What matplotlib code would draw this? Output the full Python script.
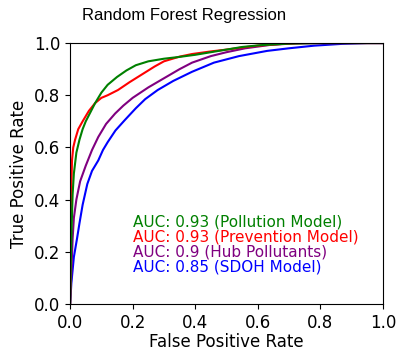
import matplotlib
matplotlib.use('Agg')
import matplotlib.pyplot as plt

# ROC curves (fpr, tpr)
pollution_fpr = [0, 0.002, 0.005, 0.008, 0.012, 0.02, 0.03, 0.04, 0.05, 0.065, 0.08, 0.1, 0.12,
                 0.15, 0.18, 0.21, 0.25, 0.3, 0.35, 0.4, 0.45, 0.5, 0.55, 0.61, 0.7, 0.8, 1.0]
pollution_tpr = [0, 0.15, 0.3, 0.42, 0.5, 0.58, 0.63, 0.67, 0.70, 0.735, 0.77, 0.81, 0.84,
                 0.87, 0.895, 0.915, 0.93, 0.94, 0.947, 0.955, 0.965, 0.975, 0.985, 0.992, 0.998, 1.0, 1.0]

prevention_fpr = [0, 0.002, 0.004, 0.006, 0.01, 0.016, 0.026, 0.04, 0.06, 0.08, 0.1, 0.12, 0.153,
                  0.19, 0.23, 0.27, 0.30, 0.35, 0.39, 0.45, 0.5, 0.55, 0.6, 0.68, 0.75, 1.0]
prevention_tpr = [0, 0.3, 0.45, 0.55, 0.6, 0.63, 0.67, 0.70, 0.74, 0.77, 0.79, 0.80, 0.82,
                  0.85, 0.88, 0.91, 0.93, 0.948, 0.958, 0.968, 0.975, 0.983, 0.99, 0.997, 1.0, 1.0]

hub_fpr = [0, 0.004, 0.008, 0.012, 0.02, 0.032, 0.05, 0.07, 0.09, 0.115, 0.144, 0.17, 0.2,
           0.25, 0.3, 0.35, 0.39, 0.45, 0.5, 0.56, 0.64, 0.72, 0.8, 1.0]
hub_tpr = [0, 0.12, 0.25, 0.33, 0.4, 0.47, 0.53, 0.59, 0.64, 0.69, 0.73, 0.76, 0.79,
           0.83, 0.865, 0.9, 0.925, 0.95, 0.965, 0.98, 0.993, 0.999, 1.0, 1.0]

sdoh_fpr = [0, 0.004, 0.012, 0.022, 0.03, 0.04, 0.055, 0.07, 0.09, 0.105, 0.12, 0.145, 0.175,
            0.21, 0.24, 0.28, 0.33, 0.39, 0.46, 0.54, 0.63, 0.7, 0.78, 0.87, 0.95, 1.0]
sdoh_tpr = [0, 0.08, 0.18, 0.25, 0.31, 0.38, 0.46, 0.51, 0.55, 0.59, 0.62, 0.665, 0.705,
            0.75, 0.785, 0.82, 0.855, 0.89, 0.925, 0.95, 0.97, 0.98, 0.99, 0.997, 1.0, 1.0]

labels = ['AUC: 0.93 (Pollution Model)', 'AUC: 0.93 (Prevention Model)',
          'AUC: 0.9 (Hub Pollutants)', 'AUC: 0.85 (SDOH Model)']
colors = ['green', 'red', 'purple', 'blue']


def main():
    fig = plt.figure(figsize=(4.03, 3.53), dpi=100)
    ax = fig.add_axes([0.174, 0.139, 0.776, 0.739])

    curves = [(pollution_fpr, pollution_tpr), (prevention_fpr, prevention_tpr),
              (hub_fpr, hub_tpr), (sdoh_fpr, sdoh_tpr)]
    # draw in reverse so green ends up on top
    for (fpr, tpr), c in reversed(list(zip(curves, colors))):
        ax.plot(fpr, tpr, color=c, lw=1.5)

    ax.set_xlim(0, 1)
    ax.set_ylim(0, 1)
    ax.tick_params(labelsize=12)
    ax.set_xlabel('False Positive Rate', fontsize=12, labelpad=1)
    ax.set_ylabel('True Positive Rate', fontsize=12, labelpad=4)

    for i, (lab, c) in enumerate(zip(labels, colors)):
        ax.text(0.201, 0.314 - i * 0.0575, lab, color=c, fontsize=11,
                transform=ax.transAxes, va='center', ha='left')

    fig.text(0.203, 0.955, 'Random Forest Regression', fontsize=12,
             family='Liberation Sans', va='center', ha='left')

    fig.savefig('out.png', dpi=100)


if __name__ == '__main__':
    main()
